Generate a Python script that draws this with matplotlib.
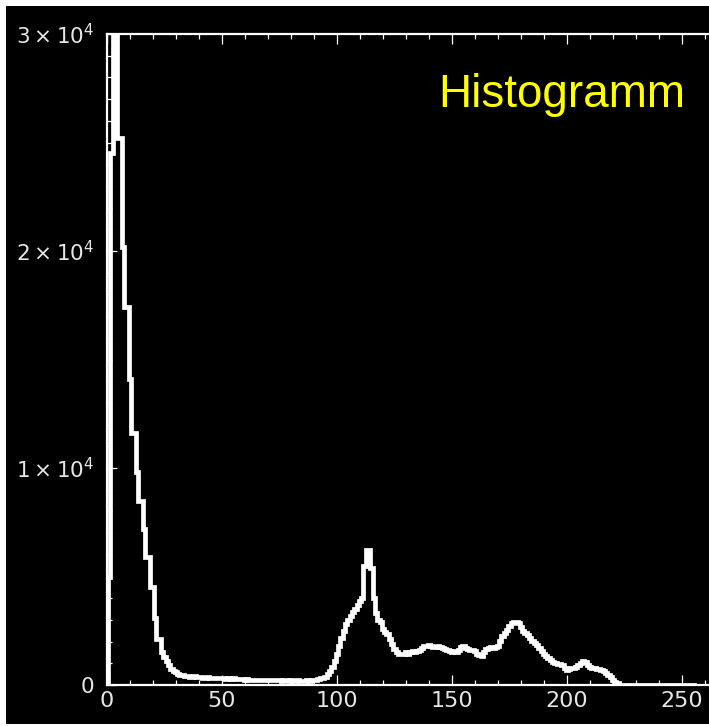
import numpy as np
import matplotlib
matplotlib.use("agg")
import matplotlib.pyplot as plt
from matplotlib.patches import Rectangle
from matplotlib.ticker import MultipleLocator

# histogram counts per grey level (bins 0..255)
spike = [0, 5000, 24500, 31500, 31500, 25200, 25200, 20200, 17400, 17400,
         14100, 11600, 11600, 9800, 8500, 8500, 7200, 5900, 5900, 4500,
         4500, 3100, 2100, 2100, 1500, 1300, 1100, 900, 750, 650]
dark = [600, 520, 480, 450, 420, 400,
        380, 370, 400, 360, 350, 370, 340, 330, 350, 320,
        330, 310, 340, 300, 310, 300, 290, 310, 280, 300,
        280, 270, 290, 260, 250, 270, 240, 250, 230, 240,
        250, 230, 220, 240, 220, 230, 210, 220, 230, 210,
        200, 220, 210, 200, 210, 190, 200, 210, 200, 190,
        200, 210, 200, 220, 230, 250, 260, 300, 330]
rise = [370, 500, 650, 830, 1100, 1450, 1800, 2150, 2500, 2800,
        3000, 3200, 3350, 3500, 3700, 3850, 4000]
peak1 = [5500, 6200, 6200, 5400, 4000, 3300, 3000, 2900, 2600, 2450,
         2350, 2100, 1900, 1650, 1500, 1450]
plateau = [1450, 1450, 1500, 1450, 1500, 1550, 1500, 1550, 1600, 1700,
           1800, 1800, 1850, 1800, 1750, 1750, 1800, 1750, 1700, 1650,
           1600, 1550, 1500, 1550, 1500, 1600, 1750, 1800, 1700, 1650,
           1600, 1600, 1550, 1450, 1400, 1350, 1500, 1650, 1700, 1750,
           1700, 1750, 1800]
peak2 = [2050, 2250, 2400, 2550, 2700, 2850, 2900, 2900, 2850, 2650,
         2500, 2400, 2300, 2150, 2050, 1950, 1850, 1700, 1550, 1450]
tail = [1350, 1250, 1150, 1050, 1000, 950, 950, 900, 800, 700,
        750, 800, 800, 850, 900, 1000, 1100, 1050, 900, 850,
        800, 800, 750, 750, 700, 650, 550, 450, 350, 250,
        150, 80]
bright = [0, 0, 0, 0, 0, 0, 0, 0, 0, 0, 0,
          0, 0, 0, 0, 0, 0, 0, 0, 0, 0, 0,
          0, 0, 0, 0, 0, 0, 0, 0, 0, 0, 0]

ytick_vals = [0, 10000, 20000, 30000]
ytick_labels = ["0", r"$1\times10^{4}$", r"$2\times10^{4}$", r"$3\times10^{4}$"]
xtick_vals = [0, 50, 100, 150, 200, 250]
title = "Histogramm"

counts = np.array(spike + dark + rise + peak1 + plateau + peak2 + tail + bright)
levels = np.arange(len(counts))

plt.rcParams["mathtext.fontset"] = "dejavusans"

W, H = 709, 726
fig = plt.figure(figsize=(W / 100, H / 100), dpi=100, facecolor="white")
# black canvas with a thin white frame on the left, top and bottom
fig.patches.append(Rectangle((6 / W, 2 / H), 1, (H - 8) / H, transform=fig.transFigure,
                             facecolor="black", edgecolor="none", zorder=-10))

x0, x1 = 107, 709
y0, y1 = 685, 34
ax = fig.add_axes([x0 / W, (H - y0) / H, (x1 - x0) / W, (y0 - y1) / H])
ax.set_zorder(1)
ax.set_facecolor("black")
ax.step(levels, counts, where="mid", color="white", lw=3.4, solid_joinstyle="miter")

ax.set_xlim(0, (x1 - x0) / 2.3)
ax.set_ylim(0, 30000)

for s in ["left", "bottom", "top"]:
    ax.spines[s].set_color("white")
    ax.spines[s].set_linewidth(1.6)
ax.spines["right"].set_visible(False)

ax.set_xticks(xtick_vals)
ax.xaxis.set_minor_locator(MultipleLocator(10))
ax.set_yticks(ytick_vals)
ax.set_yticklabels(ytick_labels)
ax.yaxis.set_minor_locator(MultipleLocator(1000))

ax.tick_params(which="both", direction="in", colors="white", top=True, right=False, width=0.9)
ax.tick_params(which="major", length=7.5)
ax.tick_params(which="minor", length=3.8)
ax.tick_params(axis="x", which="major", labelsize=16, labelcolor="#e6e6e6", pad=4)
ax.tick_params(axis="y", which="major", labelsize=15.5, labelcolor="#e6e6e6", pad=9)

fig.text(438 / W, (H - 107) / H, title, color="#ffff00", fontsize=33,
         family=["Liberation Sans", "DejaVu Sans"], ha="left", va="baseline", zorder=5)

fig.savefig("out.png", dpi=100, facecolor=fig.get_facecolor())
